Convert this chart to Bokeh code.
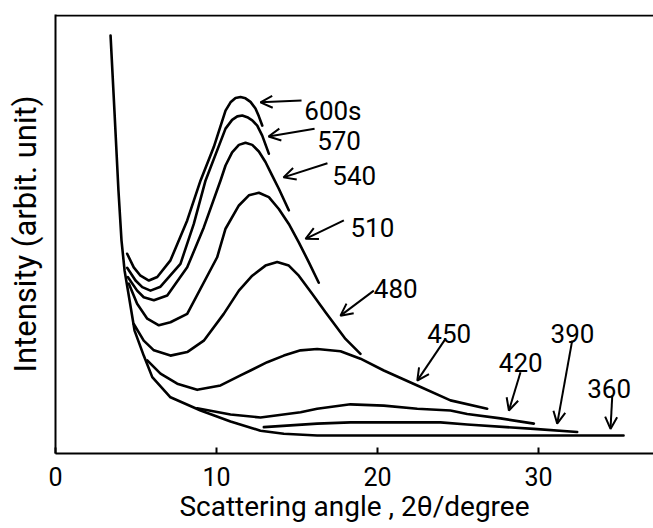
from bokeh.plotting import figure
from bokeh.models import (FixedTicker, Range1d, Label, Arrow, OpenHead, Span)
from bokeh.embed import file_html
from bokeh.resources import INLINE

# ---- data (x = scattering angle 2theta / degree, y = intensity, arbitrary units) ----
x_600 = [4.45, 4.86, 5.28, 5.80, 6.32, 7.14, 8.18, 9.01, 9.83, 10.56, 10.87, 11.18, 11.49, 11.80, 12.11, 12.42, 12.63, 12.84]
y_600 = [45.5, 42.4, 40.5, 39.4, 40.2, 44.0, 53.1, 62.2, 69.8, 78.1, 80.0, 81.0, 81.2, 80.9, 80.1, 78.6, 76.8, 74.7]

x_570 = [4.45, 4.97, 5.39, 5.90, 6.52, 7.76, 8.59, 9.32, 10.56, 10.97, 11.29, 11.60, 11.91, 12.22, 12.53, 12.84, 13.25]
y_570 = [42.3, 39.4, 37.9, 37.1, 38.0, 43.2, 52.3, 62.2, 74.0, 76.0, 76.8, 77.0, 76.6, 75.9, 74.7, 72.4, 68.3]

x_540 = [4.49, 5.07, 5.48, 6.11, 6.94, 8.18, 9.21, 10.25, 10.56, 10.97, 11.39, 11.80, 12.22, 12.63, 13.04, 13.46, 13.87, 14.49]
y_540 = [40.2, 37.1, 35.6, 34.9, 36.0, 42.4, 51.5, 62.2, 65.6, 68.6, 70.3, 70.8, 70.3, 68.8, 66.4, 63.3, 60.3, 55.4]

x_510 = [4.55, 5.07, 5.70, 6.42, 7.14, 8.18, 10.04, 10.56, 11.39, 12.01, 12.63, 13.25, 13.87, 14.49, 15.11, 15.73, 16.35]
y_510 = [38.7, 34.1, 30.7, 29.2, 29.9, 31.8, 44.7, 51.2, 56.5, 58.8, 59.4, 58.4, 55.7, 52.3, 48.1, 43.6, 38.9]

x_480 = [4.86, 5.48, 6.11, 7.14, 8.18, 9.21, 10.45, 11.39, 12.22, 13.04, 13.77, 14.49, 15.11, 15.94, 16.77, 18.01, 18.94]
y_480 = [29.5, 25.7, 23.5, 22.3, 23.1, 25.7, 31.8, 37.1, 40.5, 42.8, 43.6, 42.8, 40.5, 36.4, 32.2, 26.1, 22.7]

x_450 = [5.70, 6.52, 7.56, 8.80, 10.25, 11.49, 12.11, 13.15, 14.18, 15.22, 16.25, 17.70, 18.94, 20.39, 22.47, 24.53, 26.81]
y_450 = [21.2, 18.2, 15.9, 14.5, 15.5, 17.8, 18.9, 20.8, 22.3, 23.5, 23.8, 23.3, 21.6, 18.9, 15.5, 12.1, 10.2]

x_420 = [8.80, 10.87, 12.73, 15.22, 16.25, 18.32, 20.39, 22.47, 24.53, 25.57, 27.64, 29.71]
y_420 = [10.3, 8.9, 8.2, 9.4, 10.2, 11.2, 10.9, 10.2, 9.8, 9.0, 8.0, 6.8]

x_390 = [12.94, 16.25, 18.32, 21.43, 23.91, 25.57, 29.71, 32.40]
y_390 = [6.0, 6.8, 7.1, 7.1, 7.1, 6.6, 5.6, 4.9]

x_360 = [3.42, 3.66, 3.91, 4.10, 4.29, 4.55, 4.91, 5.48, 6.01, 7.14, 9.01, 10.87, 12.73, 14.18, 16.25, 21.43, 35.28]
y_360 = [95.2, 78.1, 59.9, 48.5, 41.7, 36.0, 28.0, 22.3, 17.4, 12.8, 9.8, 7.3, 5.2, 4.5, 4.1, 4.1, 4.1]

curve_names = ["600s", "570", "540", "510", "480", "450", "420", "390", "360"]
x_ticks = [0, 10, 20, 30]

curves_x = [x_600, x_570, x_540, x_510, x_480, x_450, x_420, x_390, x_360]
curves_y = [y_600, y_570, y_540, y_510, y_480, y_450, y_420, y_390, y_360]

# label placement (text left x, baseline y) and arrow (tail -> head), in data units
label_pos = [(15.45, 78.1), (16.25, 71.3), (17.19, 63.3), (18.32, 51.5), (19.77, 37.6),
             (23.09, 27.3), (27.53, 20.8), (30.75, 27.3), (33.02, 14.7)]
arrow_pos = [(15.28, 80.4, 12.73, 80.0), (16.09, 74.0, 13.23, 72.2), (16.89, 66.1, 14.16, 62.9),
             (17.91, 53.1, 15.53, 48.9), (19.77, 37.1, 17.70, 31.4), (24.22, 26.1, 22.47, 16.6),
             (28.88, 18.5, 28.16, 9.8), (32.09, 25.7, 31.16, 6.8), (34.58, 13.2, 34.47, 5.6)]

FONT = "Roboto"

p = figure(width=653, height=528, output_backend="svg", toolbar_location=None,
           x_range=Range1d(0, 37.14), y_range=Range1d(0, 100),
           min_border_left=55, min_border_right=0, min_border_top=14, min_border_bottom=75)
p.outline_line_color = None
p.xgrid.grid_line_color = None
p.ygrid.grid_line_color = None
p.background_fill_color = "white"
p.border_fill_color = "white"

# bottom axis
xa = p.xaxis[0]
xa.ticker = FixedTicker(ticks=x_ticks)
xa.major_tick_in = 6
xa.major_tick_out = 0
xa.minor_tick_line_color = None
xa.major_tick_line_width = 2
xa.axis_line_width = 2
xa.axis_line_color = "black"
xa.major_label_text_font = FONT
xa.major_label_text_font_size = "25px"
xa.major_label_text_color = "black"
xa.major_label_text_line_height = 0.9
xa.major_label_standoff = 13
xa.axis_label = "Scattering angle , 2\u03b8/degree"
xa.axis_label_text_font = FONT
xa.axis_label_text_font_size = "28px"
xa.axis_label_text_font_style = "normal"
xa.axis_label_text_color = "black"
xa.axis_label_text_line_height = 0.9
xa.axis_label_standoff = 1

# left axis
ya = p.yaxis[0]
ya.ticker = FixedTicker(ticks=[])
ya.minor_tick_line_color = None
ya.major_tick_line_color = None
ya.major_label_text_font_size = "0px"
ya.axis_line_width = 2
ya.axis_line_color = "black"
ya.axis_label = "Intensity (arbit. unit)"
ya.axis_label_text_font = FONT
ya.axis_label_text_font_size = "31px"
ya.axis_label_text_font_style = "normal"
ya.axis_label_text_color = "black"
ya.axis_label_standoff = 12

# top border line
p.add_layout(Span(location=99.8, dimension="width", line_color="black", line_width=2))

for cx, cy in zip(curves_x, curves_y):
    p.line(cx, cy, line_color="black", line_width=2.6, line_join="round", line_cap="round")

for name, (lx, ly), (ax0, ay0, ax1, ay1) in zip(curve_names, label_pos, arrow_pos):
    p.add_layout(Label(x=lx, y=ly, text=name, text_font=FONT, text_font_size="26px",
                       text_color="black", text_baseline="alphabetic", text_align="left"))
    p.add_layout(Arrow(end=OpenHead(size=12, line_width=2, line_color="black"),
                       x_start=ax0, y_start=ay0, x_end=ax1, y_end=ay1,
                       line_width=2, line_color="black"))

open("out.html", "w").write(file_html(p, INLINE))
